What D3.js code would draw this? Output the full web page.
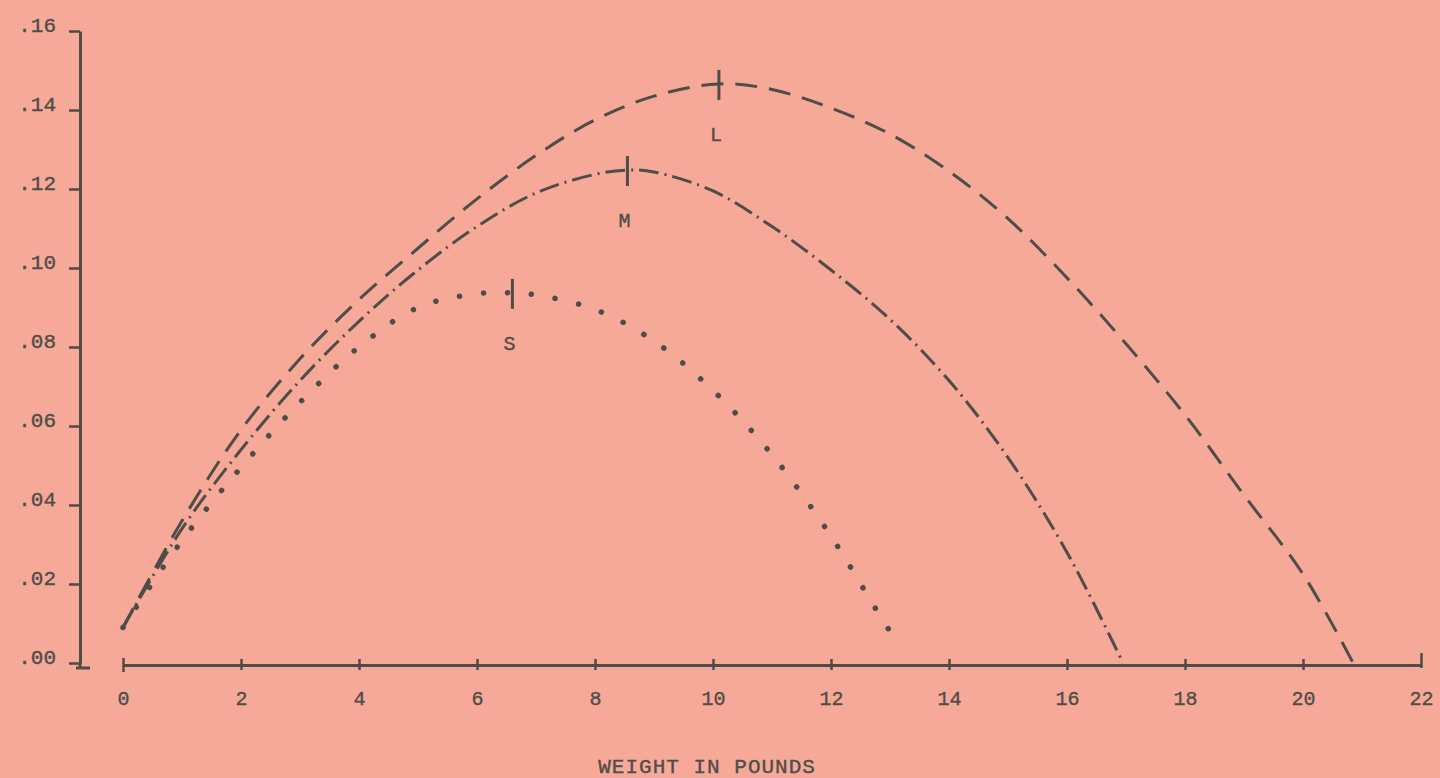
<!DOCTYPE html>
<html>
<head>
<meta charset="utf-8">
<script src="https://cdn.jsdelivr.net/npm/d3@7"></script>
<style>
  body { margin: 0; background: #f6a999; }
  svg { display: block; }
  text { font-family: "Liberation Mono", "DejaVu Sans Mono", monospace; fill: #4e4d47; stroke: #4e4d47; stroke-width: 0.35px; }
</style>
</head>
<body>
<script>
// curve L (dashed)
const weightL = [0, 1, 2, 3, 4, 5, 6, 7, 8, 9, 10.1, 11, 12, 13, 14, 15, 16, 17, 18, 19, 20, 20.85]
const valueL = [0.009, 0.036, 0.059, 0.077, 0.092, 0.105, 0.1175, 0.1285, 0.1375, 0.1435, 0.1466, 0.1452, 0.1405, 0.1339, 0.1245, 0.1125, 0.0975, 0.0808, 0.0628, 0.0425, 0.0225, 0]

// curve M (dash-dot)
const weightM = [0, 1, 2, 3, 4, 5, 6, 7, 8, 8.55, 9, 10, 11, 12, 13, 14, 15, 16, 16.95]
const valueM = [0.009, 0.034, 0.054, 0.0715, 0.0865, 0.0995, 0.1105, 0.119, 0.1237, 0.1248, 0.1243, 0.1195, 0.1105, 0.0995, 0.087, 0.0715, 0.052, 0.028, 0]

// curve S (dotted)
const weightS = [0, 1, 2, 3, 4, 5, 6, 6.6, 7, 8, 9, 10, 11, 12, 12.75, 13.05]
const valueS = [0.009, 0.031, 0.0495, 0.066, 0.08, 0.09, 0.0935, 0.0937, 0.0932, 0.0895, 0.0815, 0.069, 0.0527, 0.0321, 0.0139, 0.0068]

const curveNames = ['L', 'M', 'S']
const peakWeights = [10.1, 8.55, 6.6]
const peakValues = [0.1466, 0.1248, 0.0937]

const xTicks = [0, 2, 4, 6, 8, 10, 12, 14, 16, 18, 20, 22]
const yTicks = [0, 0.02, 0.04, 0.06, 0.08, 0.10, 0.12, 0.14, 0.16]
const xTitle = 'WEIGHT IN POUNDS'

let width = 1440
let height = 778
const ink = '#4e4d47'

const svg = d3.select('body').append('svg').attr('width', width).attr('height', height)

const x = d3.scaleLinear().domain([0, 22]).range([123, 1421])
const y = d3.scaleLinear().domain([0, 0.16]).range([663, 31])

// y axis
const yAxis = d3.axisLeft(y)
  .tickValues(yTicks)
  .tickSize(10)
  .tickSizeOuter(0)
  .tickFormat(d => d.toFixed(2).replace(/^0/, ''))

const gy = svg.append('g').attr('transform', 'translate(80,0)').call(yAxis)
gy.select('.domain').attr('stroke', ink).attr('stroke-width', 3)
gy.selectAll('.tick line').attr('stroke', ink).attr('stroke-width', 2.5).attr('x2', -11)
gy.selectAll('.tick text')
  .attr('x', -24).attr('dy', '0.0em')
  .style('font-size', '21px')
// little foot at the bottom of y axis
gy.append('line')
  .attr('x1', -4).attr('x2', 10)
  .attr('y1', y(0) + 5).attr('y2', y(0) + 5)
  .attr('stroke', ink).attr('stroke-width', 3)
gy.append('line')
  .attr('x1', 0).attr('x2', 0)
  .attr('y1', y(0)).attr('y2', y(0) + 5)
  .attr('stroke', ink).attr('stroke-width', 3)

// x axis
const xAxis = d3.axisBottom(x)
  .tickValues(xTicks)
  .tickSize(6)
  .tickSizeOuter(0)
  .tickFormat(d => d)

const gx = svg.append('g').attr('transform', 'translate(0,' + (y(0) + 2) + ')').call(xAxis)
gx.select('.domain').attr('stroke', ink).attr('stroke-width', 3)
gx.selectAll('.tick line')
  .attr('stroke', ink).attr('stroke-width', 2.5)
  .attr('y1', -6).attr('y2', 5)
gx.selectAll('.tick line').filter(d => d === 0).attr('y1', -7).attr('y2', 7)
gx.selectAll('.tick line').filter(d => d === 22).attr('y1', -12).attr('y2', 3)
gx.selectAll('.tick text')
  .attr('y', 26)
  .style('font-size', '20px')

svg.append('text')
  .attr('x', x(9.9)).attr('y', 773)
  .attr('text-anchor', 'middle')
  .style('font-size', '21px')
  .style('letter-spacing', '1px')
  .text(xTitle)

// curves
const line = d3.line()
  .x(d => x(d[0]))
  .y(d => y(d[1]))
  .curve(d3.curveCatmullRom.alpha(0.5))

const curves = [
  { pts: d3.zip(weightL, valueL), dash: '22 12', width: 3 },
  { pts: d3.zip(weightM, valueM), dash: '20 6 2 6', width: 3 },
  { pts: d3.zip(weightS, valueS), dash: '0.1 24', width: 5.5 }
]

svg.selectAll('.curve')
  .data(curves)
  .enter()
  .append('path')
  .attr('class', 'curve')
  .attr('d', d => line(d.pts))
  .attr('fill', 'none')
  .attr('stroke', ink)
  .attr('stroke-width', d => d.width)
  .attr('stroke-dasharray', d => d.dash)
  .attr('stroke-linecap', (d, i) => i === 2 ? 'round' : 'butt')

// peak markers and letters
svg.selectAll('.peak')
  .data(curveNames)
  .enter()
  .append('line')
  .attr('class', 'peak')
  .attr('x1', (d, i) => x(peakWeights[i]))
  .attr('x2', (d, i) => x(peakWeights[i]))
  .attr('y1', (d, i) => y(peakValues[i]) - 14)
  .attr('y2', (d, i) => y(peakValues[i]) + 16)
  .attr('stroke', ink)
  .attr('stroke-width', 3)

svg.selectAll('.peak-label')
  .data(curveNames)
  .enter()
  .append('text')
  .attr('class', 'peak-label')
  .attr('x', (d, i) => x(peakWeights[i]) - 3)
  .attr('y', (d, i) => y(peakValues[i]) + 57)
  .attr('text-anchor', 'middle')
  .style('font-size', '20px')
  .text(d => d)
</script>
</body>
</html>
